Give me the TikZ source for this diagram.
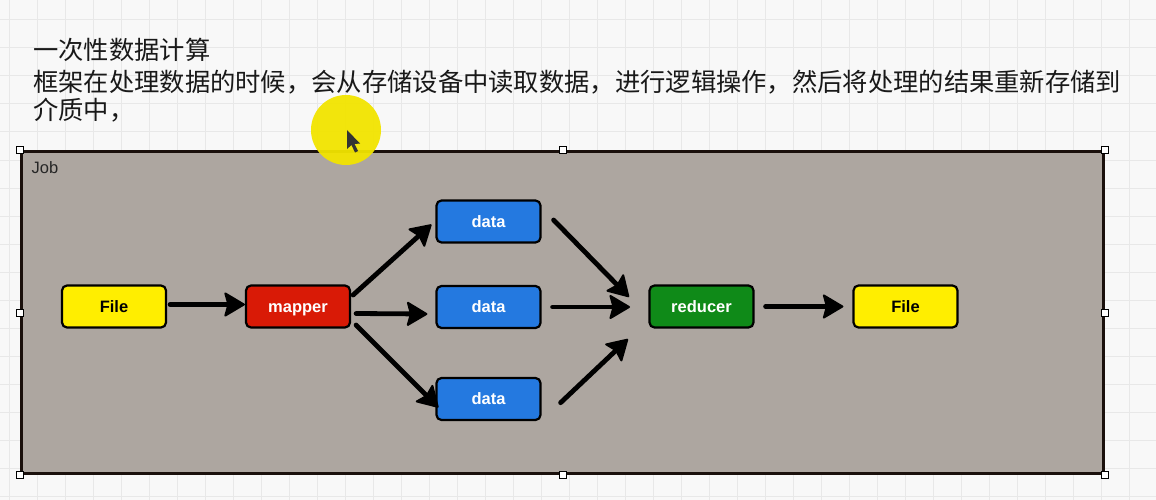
\documentclass[tikz,border=0pt]{standalone}
\usepackage{fontspec}
\setmainfont{Liberation Sans}
\newfontfamily\cjk{Noto Sans CJK SC}
\usetikzlibrary{arrows.meta}
\definecolor{pagebg}{HTML}{F8F8F8}
\definecolor{gridc}{HTML}{E8E8E8}
\definecolor{jobfill}{HTML}{ADA6A0}
\definecolor{jobline}{HTML}{1A100C}
\definecolor{fileY}{HTML}{FFEE00}
\definecolor{mapR}{HTML}{D91A06}
\definecolor{dataB}{HTML}{2479E0}
\definecolor{redG}{HTML}{0F8A18}
\definecolor{cursorY}{HTML}{F2E400}
\tikzset{
  gridline/.style={draw=gridc, line width=1pt},
  box/.style={draw=black, line width=2.2pt, rounded corners=5pt,
    minimum width=104pt, minimum height=42pt, inner sep=0pt,
    text height=11.5pt, text depth=0pt,
    font=\bfseries\fontsize{16.5}{18}\selectfont},
  darktext/.style={text=black},
  lighttext/.style={text=white},
  arr/.style={line width=4.8pt, draw=black, line cap=round,
    -{Stealth[length=22pt, width=26pt, inset=3.5pt, line width=2pt, round]}},
  handle/.style={draw=black, fill=white, line width=0.8pt},
  cjktext/.style={anchor=base west, inner sep=0pt, text=black!90,
    font=\cjk\fontsize{25.3}{30}\selectfont}
}
\begin{document}
\begin{tikzpicture}[x=1pt, y=-1pt]
\useasboundingbox (0,0) rectangle (1156,500);
\fill[pagebg] (0,0) rectangle (1156,500);
\foreach \x in {9,37,...,1156} \draw[gridline] (\x,0) -- (\x,500);
\foreach \y in {20,48,...,500} \draw[gridline] (0,\y) -- (1156,\y);

% heading text
\node[cjktext] (t1) at (33,59.5) {一次性数据计算};
\node[cjktext] (t2) at (33,91.5) {框架在处理数据的时候，会从存储设备中读取数据，进行逻辑操作，然后将处理的结果重新存储到};
\node[cjktext] (t3) at (33,120) {介质中，};

% Job frame
\node[draw=jobline, fill=jobfill, line width=3pt, minimum width=1082pt,
  minimum height=322pt, anchor=north west, inner sep=0pt] (job) at (20,150) {};
\node[anchor=west, inner sep=0pt, text=black!85, font=\fontsize{16.5}{18}\selectfont] (joblbl) at (31.5,168) {Job};

% nodes
\node[box, fill=fileY, darktext] (file1) at (114,306.5) {File};
\node[box, fill=mapR, lighttext] (mapper) at (298,306.5) {mapper};
\node[box, fill=dataB, lighttext] (data1) at (488.5,221.5) {data};
\node[box, fill=dataB, lighttext] (data2) at (488.5,307) {data};
\node[box, fill=dataB, lighttext] (data3) at (488.5,399) {data};
\node[box, fill=redG, lighttext] (reducer) at (701.5,306.5) {reducer};
\node[box, fill=fileY, darktext] (file2) at (905.5,306.5) {File};

% free ends in front of reducer
\coordinate (h1) at (629,297);
\coordinate (h2) at (630,307);
\coordinate (h3) at (628,339);

% connectors
\draw[arr] ([xshift=3pt,yshift=2pt]file1.east) -- ([yshift=2pt]mapper.west);
\draw[arr] ([xshift=2pt,yshift=11.5pt]mapper.east) -- ([xshift=-4pt,yshift=-3pt]data1.west);
\draw[arr] ([xshift=5pt,yshift=-7pt]mapper.east) -- ([xshift=-8pt,yshift=-7pt]data2.west);
\draw[arr] ([xshift=5pt,yshift=-18.5pt]mapper.east) -- ([xshift=3pt,yshift=-8.5pt]data3.west);
\draw[arr] ([xshift=12pt,yshift=1.5pt]data1.east) -- (h1);
\draw[arr] ([xshift=11pt]data2.east) -- (h2);
\draw[arr] ([xshift=19pt,yshift=-3.7pt]data3.east) -- (h3);
\draw[arr] ([xshift=11pt]reducer.east) -- ([xshift=-9pt]file2.west);

% selection handles
\foreach \p in {job.north west, job.north, job.north east, job.west, job.east,
  job.south west, job.south, job.south east}
  \draw[handle] ([xshift=-3.5pt,yshift=-3.5pt]\p) rectangle ([xshift=3.5pt,yshift=3.5pt]\p);

% cursor highlight
\fill[cursorY, opacity=0.95] (346,130) circle (35);
\fill[black!80] (347,130) -- (347,149) -- (351.5,145) -- (355,152.5) -- (358,151) -- (354.5,144) -- (360,143.5) -- cycle;
\end{tikzpicture}
\end{document}
